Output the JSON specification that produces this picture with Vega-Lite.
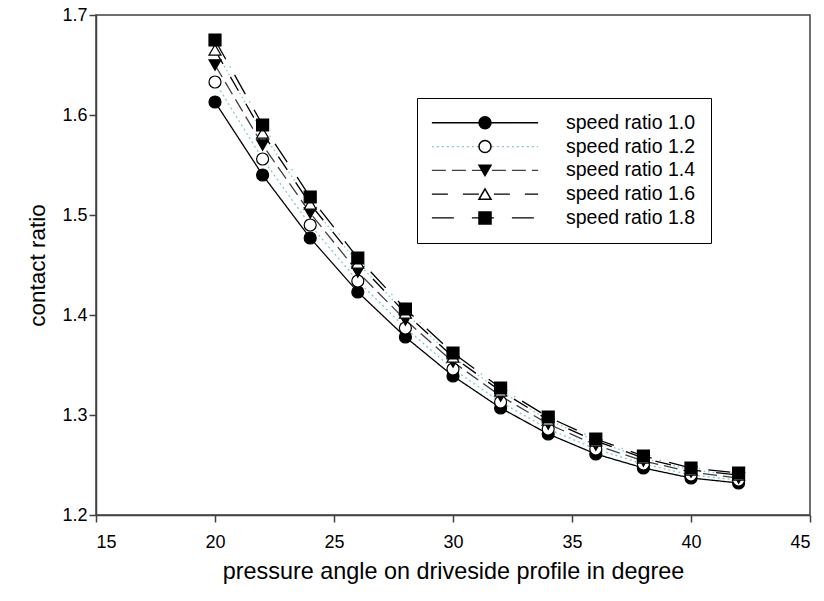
{
  "$schema": "https://vega.github.io/schema/vega-lite/v6.json",
  "width": 714,
  "height": 500,
  "autosize": {"type": "none"},
  "padding": {"left": 96, "top": 15, "right": 14, "bottom": 86},
  "background": "white",
  "config": {
    "font": "Liberation Sans",
    "view": {"stroke": "#404040", "strokeWidth": 1.5},
    "axis": {
      "domainColor": "#404040", "domainWidth": 1.5,
      "tickColor": "#404040", "tickWidth": 1.5, "tickSize": 7,
      "labelFont": "Liberation Sans", "labelFontSize": 18, "labelColor": "#000",
      "titleFont": "Liberation Sans", "titleFontWeight": "normal", "titleColor": "#000",
      "grid": false
    }
  },
  "data": {
    "values": [
      {"angle": 20, "ratio": 1.613, "series": "1.0", "label": "speed ratio 1.0"},
      {"angle": 22, "ratio": 1.540, "series": "1.0", "label": "speed ratio 1.0"},
      {"angle": 24, "ratio": 1.477, "series": "1.0", "label": "speed ratio 1.0"},
      {"angle": 26, "ratio": 1.423, "series": "1.0", "label": "speed ratio 1.0"},
      {"angle": 28, "ratio": 1.378, "series": "1.0", "label": "speed ratio 1.0"},
      {"angle": 30, "ratio": 1.339, "series": "1.0", "label": "speed ratio 1.0"},
      {"angle": 32, "ratio": 1.307, "series": "1.0", "label": "speed ratio 1.0"},
      {"angle": 34, "ratio": 1.281, "series": "1.0", "label": "speed ratio 1.0"},
      {"angle": 36, "ratio": 1.261, "series": "1.0", "label": "speed ratio 1.0"},
      {"angle": 38, "ratio": 1.247, "series": "1.0", "label": "speed ratio 1.0"},
      {"angle": 40, "ratio": 1.237, "series": "1.0", "label": "speed ratio 1.0"},
      {"angle": 42, "ratio": 1.232, "series": "1.0", "label": "speed ratio 1.0"},
      {"angle": 20, "ratio": 1.633, "series": "1.2", "label": "speed ratio 1.2"},
      {"angle": 22, "ratio": 1.556, "series": "1.2", "label": "speed ratio 1.2"},
      {"angle": 24, "ratio": 1.490, "series": "1.2", "label": "speed ratio 1.2"},
      {"angle": 26, "ratio": 1.434, "series": "1.2", "label": "speed ratio 1.2"},
      {"angle": 28, "ratio": 1.387, "series": "1.2", "label": "speed ratio 1.2"},
      {"angle": 30, "ratio": 1.346, "series": "1.2", "label": "speed ratio 1.2"},
      {"angle": 32, "ratio": 1.313, "series": "1.2", "label": "speed ratio 1.2"},
      {"angle": 34, "ratio": 1.286, "series": "1.2", "label": "speed ratio 1.2"},
      {"angle": 36, "ratio": 1.266, "series": "1.2", "label": "speed ratio 1.2"},
      {"angle": 38, "ratio": 1.251, "series": "1.2", "label": "speed ratio 1.2"},
      {"angle": 40, "ratio": 1.240, "series": "1.2", "label": "speed ratio 1.2"},
      {"angle": 42, "ratio": 1.235, "series": "1.2", "label": "speed ratio 1.2"},
      {"angle": 20, "ratio": 1.650, "series": "1.4", "label": "speed ratio 1.4"},
      {"angle": 22, "ratio": 1.570, "series": "1.4", "label": "speed ratio 1.4"},
      {"angle": 24, "ratio": 1.502, "series": "1.4", "label": "speed ratio 1.4"},
      {"angle": 26, "ratio": 1.443, "series": "1.4", "label": "speed ratio 1.4"},
      {"angle": 28, "ratio": 1.395, "series": "1.4", "label": "speed ratio 1.4"},
      {"angle": 30, "ratio": 1.353, "series": "1.4", "label": "speed ratio 1.4"},
      {"angle": 32, "ratio": 1.319, "series": "1.4", "label": "speed ratio 1.4"},
      {"angle": 34, "ratio": 1.291, "series": "1.4", "label": "speed ratio 1.4"},
      {"angle": 36, "ratio": 1.270, "series": "1.4", "label": "speed ratio 1.4"},
      {"angle": 38, "ratio": 1.254, "series": "1.4", "label": "speed ratio 1.4"},
      {"angle": 40, "ratio": 1.243, "series": "1.4", "label": "speed ratio 1.4"},
      {"angle": 42, "ratio": 1.237, "series": "1.4", "label": "speed ratio 1.4"},
      {"angle": 20, "ratio": 1.665, "series": "1.6", "label": "speed ratio 1.6"},
      {"angle": 22, "ratio": 1.582, "series": "1.6", "label": "speed ratio 1.6"},
      {"angle": 24, "ratio": 1.511, "series": "1.6", "label": "speed ratio 1.6"},
      {"angle": 26, "ratio": 1.452, "series": "1.6", "label": "speed ratio 1.6"},
      {"angle": 28, "ratio": 1.402, "series": "1.6", "label": "speed ratio 1.6"},
      {"angle": 30, "ratio": 1.358, "series": "1.6", "label": "speed ratio 1.6"},
      {"angle": 32, "ratio": 1.324, "series": "1.6", "label": "speed ratio 1.6"},
      {"angle": 34, "ratio": 1.295, "series": "1.6", "label": "speed ratio 1.6"},
      {"angle": 36, "ratio": 1.274, "series": "1.6", "label": "speed ratio 1.6"},
      {"angle": 38, "ratio": 1.257, "series": "1.6", "label": "speed ratio 1.6"},
      {"angle": 40, "ratio": 1.245, "series": "1.6", "label": "speed ratio 1.6"},
      {"angle": 42, "ratio": 1.240, "series": "1.6", "label": "speed ratio 1.6"},
      {"angle": 20, "ratio": 1.675, "series": "1.8", "label": "speed ratio 1.8"},
      {"angle": 22, "ratio": 1.590, "series": "1.8", "label": "speed ratio 1.8"},
      {"angle": 24, "ratio": 1.518, "series": "1.8", "label": "speed ratio 1.8"},
      {"angle": 26, "ratio": 1.457, "series": "1.8", "label": "speed ratio 1.8"},
      {"angle": 28, "ratio": 1.406, "series": "1.8", "label": "speed ratio 1.8"},
      {"angle": 30, "ratio": 1.362, "series": "1.8", "label": "speed ratio 1.8"},
      {"angle": 32, "ratio": 1.327, "series": "1.8", "label": "speed ratio 1.8"},
      {"angle": 34, "ratio": 1.298, "series": "1.8", "label": "speed ratio 1.8"},
      {"angle": 36, "ratio": 1.276, "series": "1.8", "label": "speed ratio 1.8"},
      {"angle": 38, "ratio": 1.259, "series": "1.8", "label": "speed ratio 1.8"},
      {"angle": 40, "ratio": 1.247, "series": "1.8", "label": "speed ratio 1.8"},
      {"angle": 42, "ratio": 1.242, "series": "1.8", "label": "speed ratio 1.8"}
    ]
  },
  "encoding": {
    "x": {
      "field": "angle", "type": "quantitative",
      "scale": {"domain": [15, 45], "nice": false, "zero": false},
      "axis": {"values": [15, 20, 25, 30, 35, 40, 45], "title": "pressure angle on driveside profile in degree", "titleFontSize": 23.4, "labelPadding": 11, "titleY": 63, "titleBaseline": "alphabetic"}
    },
    "y": {
      "field": "ratio", "type": "quantitative",
      "scale": {"domain": [1.2, 1.7], "nice": false, "zero": false},
      "axis": {"values": [1.2, 1.3, 1.4, 1.5, 1.6, 1.7], "format": ".1f", "title": "contact ratio", "titleFontSize": 22.5, "labelPadding": 2, "titleX": -52, "titleBaseline": "alphabetic"}
    }
  },
  "layer": [
    {
      "mark": {"type": "line", "strokeWidth": 1.3},
      "encoding": {
        "color": {
          "field": "label", "type": "nominal",
          "scale": {"domain": ["speed ratio 1.0", "speed ratio 1.2", "speed ratio 1.4", "speed ratio 1.6", "speed ratio 1.8"], "range": ["#000000", "#7ccccc", "#404040", "#000000", "#000000"]},
          "legend": {"title": null, "orient": "none", "legendX": 321, "legendY": 83, "symbolType": "M-6.25,0L6.25,0", "symbolSize": 289, "symbolStrokeWidth": 1.3, "symbolOffset": 43.25, "labelFontSize": 19.5, "labelFont": "Liberation Sans", "labelColor": "#000", "labelOffset": 71.25, "padding": 15, "rowPadding": 2.8, "strokeColor": "#000"}
        },
        "strokeDash": {
          "field": "label", "type": "nominal",
          "scale": {"domain": ["speed ratio 1.0", "speed ratio 1.2", "speed ratio 1.4", "speed ratio 1.6", "speed ratio 1.8"], "range": [[1, 0], [2, 3], [14, 6], [16, 15], [22, 18]]},
          "legend": {"title": null, "orient": "none", "legendX": 321, "legendY": 83, "symbolType": "M-6.25,0L6.25,0", "symbolSize": 289, "symbolStrokeWidth": 1.3, "symbolOffset": 43.25, "labelFontSize": 19.5, "labelFont": "Liberation Sans", "labelColor": "#000", "labelOffset": 71.25, "padding": 15, "rowPadding": 2.8, "strokeColor": "#000"}
        }
      }
    },
    {
      "transform": [{"filter": "datum.series == '1.6'"}],
      "mark": {"type": "line", "strokeWidth": 1.3, "color": "#7ccccc", "strokeDash": [1.5, 3, 1.5, 3, 1.5, 20.5], "strokeDashOffset": 12.5},
      "encoding": {}
    },
    {
      "transform": [{"filter": "datum.series == '1.8'"}],
      "mark": {"type": "line", "strokeWidth": 1.3, "color": "#7ccccc", "strokeDash": [1.5, 38.5], "strokeDashOffset": 9.75},
      "encoding": {}
    },
    {
      "mark": {"type": "point", "filled": true, "size": 144, "stroke": "#000", "strokeWidth": 1.2, "opacity": 1},
      "encoding": {
        "shape": {
          "field": "series", "type": "nominal",
          "scale": {"domain": ["1.0", "1.2", "1.4", "1.6", "1.8"], "range": ["circle", "circle", "triangle-down", "triangle-up", "square"]},
          "legend": {"title": null, "orient": "none", "legendX": 364.25, "legendY": 83, "symbolSize": 144, "labelFontSize": 19.5, "labelOpacity": 0, "padding": 15, "rowPadding": 2.8,
            "encode": {"symbols": {"update": {"stroke": {"value": "#000"}, "strokeWidth": {"value": 1.2}, "opacity": {"value": 1}}}}}
        },
        "fill": {
          "field": "series", "type": "nominal",
          "scale": {"domain": ["1.0", "1.2", "1.4", "1.6", "1.8"], "range": ["#000000", "#ffffff", "#000000", "#ffffff", "#000000"]},
          "legend": {"title": null, "orient": "none", "legendX": 364.25, "legendY": 83, "symbolSize": 144, "labelFontSize": 19.5, "labelOpacity": 0, "padding": 15, "rowPadding": 2.8,
            "encode": {"symbols": {"update": {"stroke": {"value": "#000"}, "strokeWidth": {"value": 1.2}, "opacity": {"value": 1}}}}}
        }
      }
    }
  ]
}
